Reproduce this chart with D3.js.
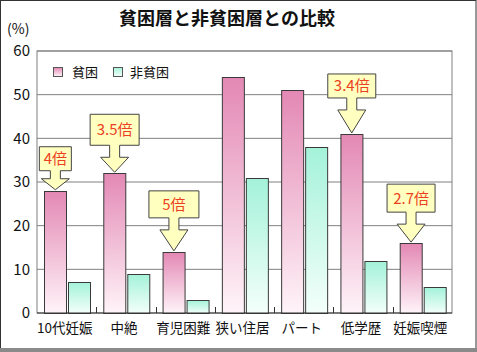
<!DOCTYPE html>
<html>
<head>
<meta charset="utf-8">
<script src="https://cdn.jsdelivr.net/npm/d3@7"></script>
<style>
  body { margin: 0; background: #fff; }
  text { font-family: "Noto Sans CJK JP", "Noto Sans", sans-serif; }
</style>
</head>
<body>
<div id="chart"></div>
<script>
// data
var categories = ["10代妊娠", "中絶", "育児困難", "狭い住居", "パート", "低学歴", "妊娠喫煙"];
var seriesNames = ["貧困", "非貧困"];
var poor = [28, 32, 14, 54, 51, 41, 16];
var nonPoor = [7, 9, 3, 31, 38, 12, 6];
var yTicks = [0, 10, 20, 30, 40, 50, 60];
var calloutCats = ["10代妊娠", "中絶", "育児困難", "低学歴", "妊娠喫煙"];
var calloutLabels = ["4倍", "3.5倍", "5倍", "3.4倍", "2.7倍"];

// callout box geometry (px) - box width, box height, gap box->bar top
var calloutBox = [[32, 24, 20], [49, 31, 28], [50, 27, 34], [48, 24, 36], [48, 28, 31]];

var width = 477, height = 352;
var margin = {top: 51, right: 25, bottom: 39, left: 37};

var svg = d3.select("#chart").append("svg")
    .attr("width", width)
    .attr("height", height);

var defs = svg.append("defs");
var gradPink = defs.append("linearGradient").attr("id", "gPink")
    .attr("x1", 0).attr("y1", 0).attr("x2", 0).attr("y2", 1);
gradPink.append("stop").attr("offset", "0%").attr("stop-color", "#e388b4");
gradPink.append("stop").attr("offset", "100%").attr("stop-color", "#fff4f9");
var gradGreen = defs.append("linearGradient").attr("id", "gGreen")
    .attr("x1", 0).attr("y1", 0).attr("x2", 0).attr("y2", 1);
gradGreen.append("stop").attr("offset", "0%").attr("stop-color", "#a4f2d9");
gradGreen.append("stop").attr("offset", "100%").attr("stop-color", "#f4fffb");
var fills = ["url(#gPink)", "url(#gGreen)"];

// outer frame
svg.append("rect").attr("x", 0.5).attr("y", 0.5)
    .attr("width", width - 1.5).attr("height", height - 3)
    .attr("fill", "#fff").attr("stroke", "#333").attr("stroke-width", 1);
svg.append("rect").attr("x", 0).attr("y", height - 4)
    .attr("width", width).attr("height", 4).attr("fill", "#8a8a8a");

var x = d3.scaleBand()
    .domain(categories)
    .range([margin.left, width - margin.right]);

var xs = d3.scaleBand()
    .domain(seriesNames)
    .range([6.5, x.bandwidth() - 7])
    .paddingInner(0.1);

var y = d3.scaleLinear()
    .domain([0, 60])
    .range([height - margin.bottom, margin.top]);

// gridlines
svg.append("g").selectAll("line")
    .data(yTicks.slice(1))
    .enter().append("line")
    .attr("x1", margin.left).attr("x2", width - margin.right)
    .attr("y1", function(d) { return y(d); })
    .attr("y2", function(d) { return y(d); })
    .attr("stroke", "#808080").attr("stroke-width", 1);

// plot frame
svg.append("rect")
    .attr("x", margin.left).attr("y", y(60))
    .attr("width", width - margin.left - margin.right)
    .attr("height", y(0) - y(60))
    .attr("fill", "none").attr("stroke", "#808080");

// y labels
svg.append("g").selectAll("text")
    .data(yTicks)
    .enter().append("text")
    .attr("x", 30)
    .attr("y", function(d) { return y(d); })
    .attr("dy", "0.36em")
    .attr("text-anchor", "end")
    .attr("font-size", 15)
    .attr("fill", "#111")
    .text(function(d) { return d; });

svg.append("text").attr("x", 7).attr("y", 34)
    .attr("font-size", 14).attr("fill", "#111").text("(%)");

// bars
var rows = categories.map(function(c, i) { return {cat: c, vals: [poor[i], nonPoor[i]]}; });
var groups = svg.append("g").selectAll("g")
    .data(rows)
    .enter().append("g")
    .attr("transform", function(d) { return "translate(" + x(d.cat) + ",0)"; });

groups.selectAll("rect")
    .data(function(d) { return d.vals.map(function(v, j) { return {s: seriesNames[j], v: v, j: j}; }); })
    .enter().append("rect")
    .attr("x", function(d) { return Math.round(xs(d.s)) + 0.5; })
    .attr("y", function(d) { return Math.round(y(d.v)) + 0.5; })
    .attr("width", Math.round(xs.bandwidth()))
    .attr("height", function(d) { return Math.round(y(0)) - Math.round(y(d.v)); })
    .attr("fill", function(d) { return fills[d.j]; })
    .attr("stroke", "#3a3a3a").attr("stroke-width", 1);

// baseline + category ticks
svg.append("line")
    .attr("x1", margin.left).attr("x2", width - margin.right)
    .attr("y1", y(0)).attr("y2", y(0))
    .attr("stroke", "#333");
svg.append("g").selectAll("line")
    .data(categories.slice(1))
    .enter().append("line")
    .attr("x1", function(d) { return Math.round(x(d)) + 0.5; })
    .attr("x2", function(d) { return Math.round(x(d)) + 0.5; })
    .attr("y1", y(0)).attr("y2", y(0) - 6)
    .attr("stroke", "#333");

// x labels
svg.append("g").selectAll("text")
    .data(categories)
    .enter().append("text")
    .attr("x", function(d) { return x(d) + x.bandwidth() / 2 - 2; })
    .attr("y", 333)
    .attr("text-anchor", "middle")
    .attr("font-size", 13.5)
    .attr("fill", "#111")
    .text(function(d) { return d; });

// legend
var legend = svg.append("g");
[[53, 72], [113, 130]].forEach(function(p, j) {
    legend.append("rect").attr("x", p[0] + 0.5).attr("y", 67.5)
        .attr("width", 9).attr("height", 9)
        .attr("fill", fills[j]).attr("stroke", "#555");
    legend.append("text").attr("x", p[1]).attr("y", 72).attr("dy", "0.36em")
        .attr("font-size", 13).attr("fill", "#111").text(seriesNames[j]);
});

// callouts
calloutCats.forEach(function(c, k) {
    var i = categories.indexOf(c);
    var cx = x(c) + xs(seriesNames[0]) + xs.bandwidth() / 2 + 1;
    var tip = y(poor[i]);
    var bw = calloutBox[k][0], bh = calloutBox[k][1], gap = calloutBox[k][2];
    var bBot = tip - gap, bTop = bBot - bh;
    var stem = gap > 24 ? 12 : 8;
    var sw = 5, hw = 14;
    var pts = [
        [cx - bw / 2, bTop], [cx + bw / 2, bTop], [cx + bw / 2, bBot],
        [cx + sw, bBot], [cx + sw, bBot + stem], [cx + hw, bBot + stem],
        [cx, tip - 1], [cx - hw, bBot + stem], [cx - sw, bBot + stem],
        [cx - sw, bBot], [cx - bw / 2, bBot]
    ];
    svg.append("path")
        .attr("d", d3.line()(pts) + "Z")
        .attr("fill", "#ffffbf").attr("stroke", "#444").attr("stroke-width", 1);
    svg.append("text")
        .attr("x", cx).attr("y", bTop + bh / 2)
        .attr("dy", "0.36em")
        .attr("text-anchor", "middle")
        .attr("font-size", 15)
        .attr("fill", "#ec3f22")
        .text(calloutLabels[k]);
});

// title
svg.append("text")
    .attr("x", 227).attr("y", 25)
    .attr("text-anchor", "middle")
    .attr("font-size", 18).attr("font-weight", "bold")
    .attr("fill", "#111")
    .text("貧困層と非貧困層との比較");
</script>
</body>
</html>
